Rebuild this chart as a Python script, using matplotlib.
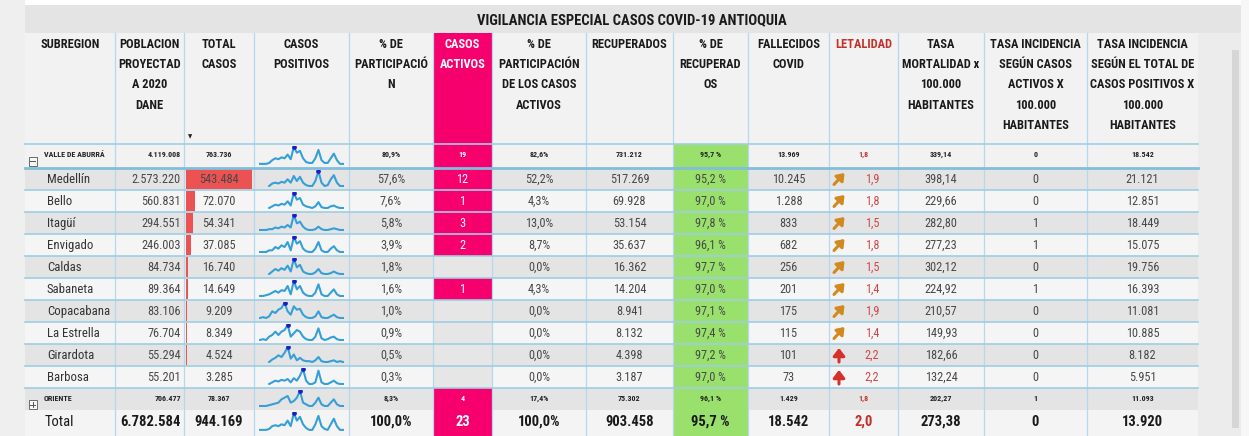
import numpy as np
import matplotlib
matplotlib.use("Agg")
import matplotlib.pyplot as plt
from matplotlib import font_manager as fm
from matplotlib.patches import Rectangle

# pick a narrow font that is installed
avail = {f.name for f in fm.fontManager.ttflist}
FONT = "DejaVu Sans"
for cand in ["Roboto Condensed", "Arial Narrow", "Liberation Sans Narrow", "IBM Plex Sans Condensed"]:
    if cand in avail:
        FONT = cand
        break
plt.rcParams['font.family'] = [FONT, 'DejaVu Sans']

# ---- data ----
title = "VIGILANCIA ESPECIAL CASOS COVID-19 ANTIOQUIA"

headers = [["SUBREGION"],
           ["POBLACION", "PROYECTAD", "A 2020", "DANE"],
           ["TOTAL", "CASOS"],
           ["CASOS", "POSITIVOS"],
           ["% DE", "PARTICIPACIÓ", "N"],
           ["CASOS", "ACTIVOS"],
           ["% DE", "PARTICIPACIÓN", "DE LOS CASOS", "ACTIVOS"],
           ["RECUPERADOS"],
           ["% DE", "RECUPERAD", "OS"],
           ["FALLECIDOS", "COVID"],
           ["LETALIDAD"],
           ["TASA", "MORTALIDAD x", "100.000", "HABITANTES"],
           ["TASA INCIDENCIA", "SEGÚN CASOS", "ACTIVOS X", "100.000", "HABITANTES"],
           ["TASA INCIDENCIA", "SEGÚN EL TOTAL DE", "CASOS POSITIVOS X", "100.000", "HABITANTES"]]

names = ["Medellín", "Bello", "Itagüí", "Envigado", "Caldas", "Sabaneta",
         "Copacabana", "La Estrella", "Girardota", "Barbosa"]
poblacion = [2573220, 560831, 294551, 246003, 84734, 89364, 83106, 76704, 55294, 55201]
total_casos = [543484, 72070, 54341, 37085, 16740, 14649, 9209, 8349, 4524, 3285]
pct_part = [57.6, 7.6, 5.8, 3.9, 1.8, 1.6, 1.0, 0.9, 0.5, 0.3]
activos = [12, 1, 3, 2, None, 1, None, None, None, None]
pct_activos = [52.2, 4.3, 13.0, 8.7, 0.0, 4.3, 0.0, 0.0, 0.0, 0.0]
recuperados = [517269, 69928, 53154, 35637, 16362, 14204, 8941, 8132, 4398, 3187]
pct_recup = [95.2, 97.0, 97.8, 96.1, 97.7, 97.0, 97.1, 97.4, 97.2, 97.0]
fallecidos = [10245, 1288, 833, 682, 256, 201, 175, 115, 101, 73]
letalidad = [1.9, 1.8, 1.5, 1.8, 1.5, 1.4, 1.9, 1.4, 2.2, 2.2]
tasa_mort = [398.14, 229.66, 282.80, 277.23, 302.12, 224.92, 210.57, 149.93, 182.66, 132.24]
tasa_activos = [0, 0, 1, 1, 0, 1, 0, 0, 0, 0]
tasa_total = [21121, 12851, 18449, 15075, 19756, 16393, 11081, 10885, 8182, 5951]

# subtotal / total rows: poblacion, casos, %part, activos, %activos, recup, %recup, fallec, letal, mort, inc act, inc tot
valle = ["VALLE DE ABURRÁ", 4119008, 763736, 80.9, 19, 82.6, 731212, 95.7, 13969, 1.8, 339.14, 0, 18542]
oriente = ["ORIENTE", 706477, 78367, 8.3, 4, 17.4, 75302, 96.1, 1429, 1.8, 202.27, 1, 11093]
total = ["Total", 6782584, 944169, 100.0, 23, 100.0, 903458, 95.7, 18542, 2.0, 273.38, 0, 13920]

# sparkline values (relative), one per row
N = None
spark_valle = [1, 1, 1, 1.5, 3, 4, 3.5, 4.5, 4, 6, 3.5, 10, 7, 8, 4, 2, 1.5, 1.5, 4, 8.5, 3, 1.5, 1.5, 4, 6.5, 3, 1, 1]
spark_medellin = [N, N, N, 1, 2.5, 3, 2.5, 3.5, 3, 5, 3, 7, 4, 6.5, 3, 1.5, 1, 1, 4, 10, 3, 1, 1.5, 5, 7.5, 3, 1, 1]
spark_bello = [N, N, N, 1, 2, 3, 2.5, 3.5, 3, 5, 2.5, 10, 6, 7, 3, 2, 1.5, 1, 2, 4.5, 1.5, 1, 1, 2, 2.5, 1.5, 1, 1]
spark_itagui = [1, 1, 1, 1.5, 1.5, 2.5, 2, 3, 2.5, 4, 2.5, 10, 5, 6, 3, 1.5, 1, 1, 1.5, 3, 1.5, 1, 1, 1.5, 2, 1.5, 1, 1]
spark_envigado = [1, 1, 1, 2, 2, 4, 3, 5, 4, 7, 2, 10, 6, 7.5, 3, 1.5, 1, 1, 3, 7, 2, 1, 1, 3, 4.5, 2, 1, 1]
spark_caldas = [N, N, N, 1, 2.5, 4, 3, 4.5, 3.5, 6, 2.5, 10, 5, 6.5, 2.5, 1.5, 1, 1, 2, 4, 1.5, 1, 1, 1.5, 2.5, 1.5, 1, 1]
spark_sabaneta = [1, 1, 1.5, 2, 3, 4, 3, 4.5, 4, 7, 2, 10, 5, 7, 3, 1.5, 1, 1, 3, 8, 2, 1, 1, 3, 5, 2, 1, 1]
spark_copacabana = [1, 1.5, 1, 2, 5, 4, 6, 7, 10, 5, 3, 8, 6, 6.5, 3, 1.5, 1, 1, 2, 5, 1.5, 1, 1, 2, 3, 1.5, 1, 1]
spark_estrella = [1, 1.5, 1, 3, 4, 6, 4, 6, 7, 10, 3, 5, 7, 6, 3, 1.5, 1, 1, 3, 8, 2, 1, 1.5, 2.5, 3, 1.5, 1, 1]
spark_girardota = [N, N, N, 1, 2.5, 3.5, 5, 4, 6.5, 10, 3, 5.5, 2, 3.5, 2, 1.5, 1.5, 1, 2, 4, 1.5, 1, 1, 1.5, 2, 1, 1.5, 1]
spark_barbosa = [N, N, N, 1, 2, 3, 2.5, 3.5, 3, 4, 2, 4.5, 3, 6, 10, 3, 1, 1, 2, 9, 2, 1, 1, 2, 3, 1.5, 1, 1]
spark_oriente = [1, 1, 1, 1.5, 2, 2.5, 3, 5, 6, 7, 3, 4, 6, 10, 3, 2, 1, 1, 3, 6, 2, 1, 1, 3, 5, 2, 1, 1]
spark_total = [1, 1, 1, 1.5, 3, 3.5, 3, 4, 3.5, 6, 3, 10, 6, 8, 4, 2, 1, 1, 4, 8.5, 3, 1.5, 1, 4, 7, 3, 1, 1]

sparks = [spark_valle, spark_medellin, spark_bello, spark_itagui, spark_envigado,
          spark_caldas, spark_sabaneta, spark_copacabana, spark_estrella,
          spark_girardota, spark_barbosa, spark_oriente, spark_total]

# ---- layout (pixels) ----
W, H = 1249, 436
cols = [25, 115, 184, 254, 349, 433, 492, 586, 673, 748, 829, 898, 984, 1087, 1198]
rows = [144, 168] + [168 + 22 * i for i in range(1, 12)] + [436]
kinds = ["sub"] + ["mun"] * 10 + ["sub", "total"]

C_MAG = "#f5006d"
C_GREEN = "#99e16c"
C_RED = "#ec5252"
C_TXT = "#484848"
C_LET = "#d0474b"
C_LINE = "#9fcde4"
C_VLINE = "#b5d9ec"


def fmt_int(v):
    return f"{v:,}".replace(",", ".")


def fmt_dec(v, d=1):
    return f"{v:.{d}f}".replace(".", ",")


fig = plt.figure(figsize=(W / 100, H / 100), dpi=100)
bg = fig.add_axes([0, 0, 1, 1], zorder=0)
bg.set_xlim(0, W)
bg.set_ylim(H, 0)
bg.axis("off")


def rect(a, x0, y0, x1, y1, color, **kw):
    a.add_patch(Rectangle((x0, y0), x1 - x0, y1 - y0, facecolor=color,
                          edgecolor=kw.pop("ec", "none"), **kw))


# outer frame
rect(bg, 0, 0, 25, H, "#efefef")
rect(bg, 25, 5, 1241, 33, "#e4e4e4")
rect(bg, 1198, 33, 1241, H, "#ececec")
rect(bg, 1232, 50, 1239, 428, "#d6d6d6")
rect(bg, 1241, 0, W, H, "#f7f7f7")

# header
rect(bg, cols[0], 33, cols[-1], 144, "#f2f2f2")
rect(bg, cols[5], 33, cols[6], 144, C_MAG)

# row backgrounds
act = [valle[4]] + activos + [oriente[4], total[4]]
for i in range(len(kinds)):
    y0, y1 = rows[i], rows[i + 1]
    if i == 0:
        c = "#f2f2f2"
    elif kinds[i] == "total":
        c = "#f4f4f4"
    else:
        c = "#e4e4e4" if i % 2 == 1 else "#f5f5f5"
    rect(bg, cols[0], y0, cols[-1], y1, c)
    rect(bg, cols[5], y0, cols[6], y1, C_MAG if act[i] is not None else "#e6e6e6")
    rect(bg, cols[8], y0, cols[9], y1, C_GREEN)

# bars (total casos) and sparklines as small axes
maxc = max(total_casos)
for i in range(len(kinds)):
    y0, y1 = rows[i], rows[i + 1]
    if kinds[i] == "mun":
        b = fig.add_axes([(cols[2] + 2) / W, 1 - (y1 - 1) / H, (cols[3] - cols[2] - 4) / W, (y1 - y0 - 2) / H], zorder=1)
        b.barh([0], [total_casos[i - 1]], height=1, color=C_RED)
        b.set_xlim(0, maxc)
        b.set_ylim(-0.5, 0.5)
        b.axis("off")
    s = np.array(sparks[i], dtype=float)
    top = y0 + 2
    bot = y1 - 3 if i < 12 else y0 + 21
    sa = fig.add_axes([(cols[3] + 5) / W, 1 - bot / H, (cols[4] - cols[3] - 10) / W, (bot - top) / H], zorder=1)
    x = np.arange(len(s))
    sa.plot(x, s, color="#35a0d8", lw=1.5, solid_joinstyle="round")
    k = np.nanargmax(s)
    sa.plot([x[k]], [s[k]], "o", ms=2.4, color="#1d1dc8")
    sa.set_xlim(-0.3, len(s) - 0.7)
    sa.set_ylim(0.4, 10.6)
    sa.axis("off")

# overlay for lines and text
ax = fig.add_axes([0, 0, 1, 1], zorder=2)
ax.set_xlim(0, W)
ax.set_ylim(H, 0)
ax.axis("off")

for xc in cols[1:-1]:
    ax.plot([xc, xc], [33, H], color=C_VLINE, lw=0.9)
ax.plot([cols[0], cols[-1]], [144, 144], color=C_LINE, lw=1.2)
ax.plot([cols[0], cols[-1]], [168, 168], color="#82bedb", lw=2.0)
for yl in rows[2:12]:
    ax.plot([cols[0], cols[-1]], [yl, yl], color=C_LINE, lw=1.2)

ax.text(632, 20, title, ha="center", va="center", fontsize=10.5, weight="bold", color="#1a1a1a")

for j, lines in enumerate(headers):
    xc = (cols[j] + cols[j + 1]) / 2
    color = "white" if j == 5 else ("#c4302b" if j == 10 else "#1a1a1a")
    for n, t in enumerate(lines):
        ax.text(xc, 45 + 20 * n, t, ha="center", va="center", fontsize=8.9, weight="bold", color=color)
ax.text(190, 137, "▼", ha="center", va="center", fontsize=4, family="DejaVu Sans", color="#222222")

# expand / collapse boxes
for yb, sign in [(157, "-"), (400, "+")]:
    rect(ax, 29, yb, 37, yb + 9, "#f7f7f7", ec="#6a6a6a", lw=0.7)
    ax.plot([30.5, 35.5], [yb + 4.5, yb + 4.5], color="#555555", lw=0.7)
    if sign == "+":
        ax.plot([33, 33], [yb + 2, yb + 7], color="#555555", lw=0.7)

centers = [(cols[j] + cols[j + 1]) / 2 for j in range(len(cols) - 1)]


def row_values(r):
    return [fmt_int(r[1]), fmt_int(r[2]), fmt_dec(r[3]) + "%",
            "" if r[4] is None else str(r[4]), fmt_dec(r[5]) + "%",
            fmt_int(r[6]), fmt_dec(r[7]) + " %", fmt_int(r[8]),
            fmt_dec(r[9]), fmt_dec(r[10], 2), str(r[11]), fmt_int(r[12])]


col_idx = [1, 2, 4, 5, 6, 7, 8, 9, 10, 11, 12, 13]

for i in range(len(kinds)):
    y0, y1 = rows[i], rows[i + 1]
    if i == 0 or i == 11:
        r = valle if i == 0 else oriente
        yt = y0 + 10
        kw = dict(fontsize=5.8, weight="bold", color="#222222")
        ax.text(44, yt, r[0], ha="left", va="center", **kw)
    elif i == 12:
        r = total
        yt = y0 + 12
        kw = dict(fontsize=10.5, weight="bold", color="#1a1a1a")
        ax.text(45, yt, r[0], ha="left", va="center", fontsize=10.5, color="#1a1a1a")
    else:
        m = i - 1
        r = [names[m], poblacion[m], total_casos[m], pct_part[m], activos[m], pct_activos[m],
             recuperados[m], pct_recup[m], fallecidos[m], letalidad[m], tasa_mort[m],
             tasa_activos[m], tasa_total[m]]
        yt = (y0 + y1) / 2
        kw = dict(fontsize=8.8, color=C_TXT)
        ax.text(47, yt, r[0], ha="left", va="center", fontsize=9.2, color="#333333")
        # trend arrow next to letalidad
        if letalidad[m] >= 2.0:
            ax.annotate("", xy=(839, yt - 7), xytext=(839, yt + 7),
                        arrowprops=dict(arrowstyle="-|>,head_width=0.35,head_length=0.45",
                                        lw=2.2, color="#d4312a", shrinkA=0, shrinkB=0))
        else:
            ax.annotate("", xy=(844.5, yt - 6), xytext=(834, yt + 5.5),
                        arrowprops=dict(arrowstyle="-|>,head_width=0.3,head_length=0.4",
                                        lw=2.2, color="#d18a1f", shrinkA=0, shrinkB=0))
    vals = row_values(r)
    for j, t in zip(col_idx, vals):
        kk = dict(kw)
        if j == 5:
            kk["color"] = "white"
        if j == 10:
            kk["color"] = "#c4302b" if i in (0, 11, 12) else C_LET
        if j == 1:
            ax.text(cols[2] - 3, yt, t, ha="right", va="center", **kk)
        elif j == 10 and kinds[i] == "mun":
            ax.text(872, yt, t, ha="center", va="center", **kk)
        else:
            ax.text(centers[j], yt, t, ha="center", va="center", **kk)

fig.savefig("out.png", dpi=100)
